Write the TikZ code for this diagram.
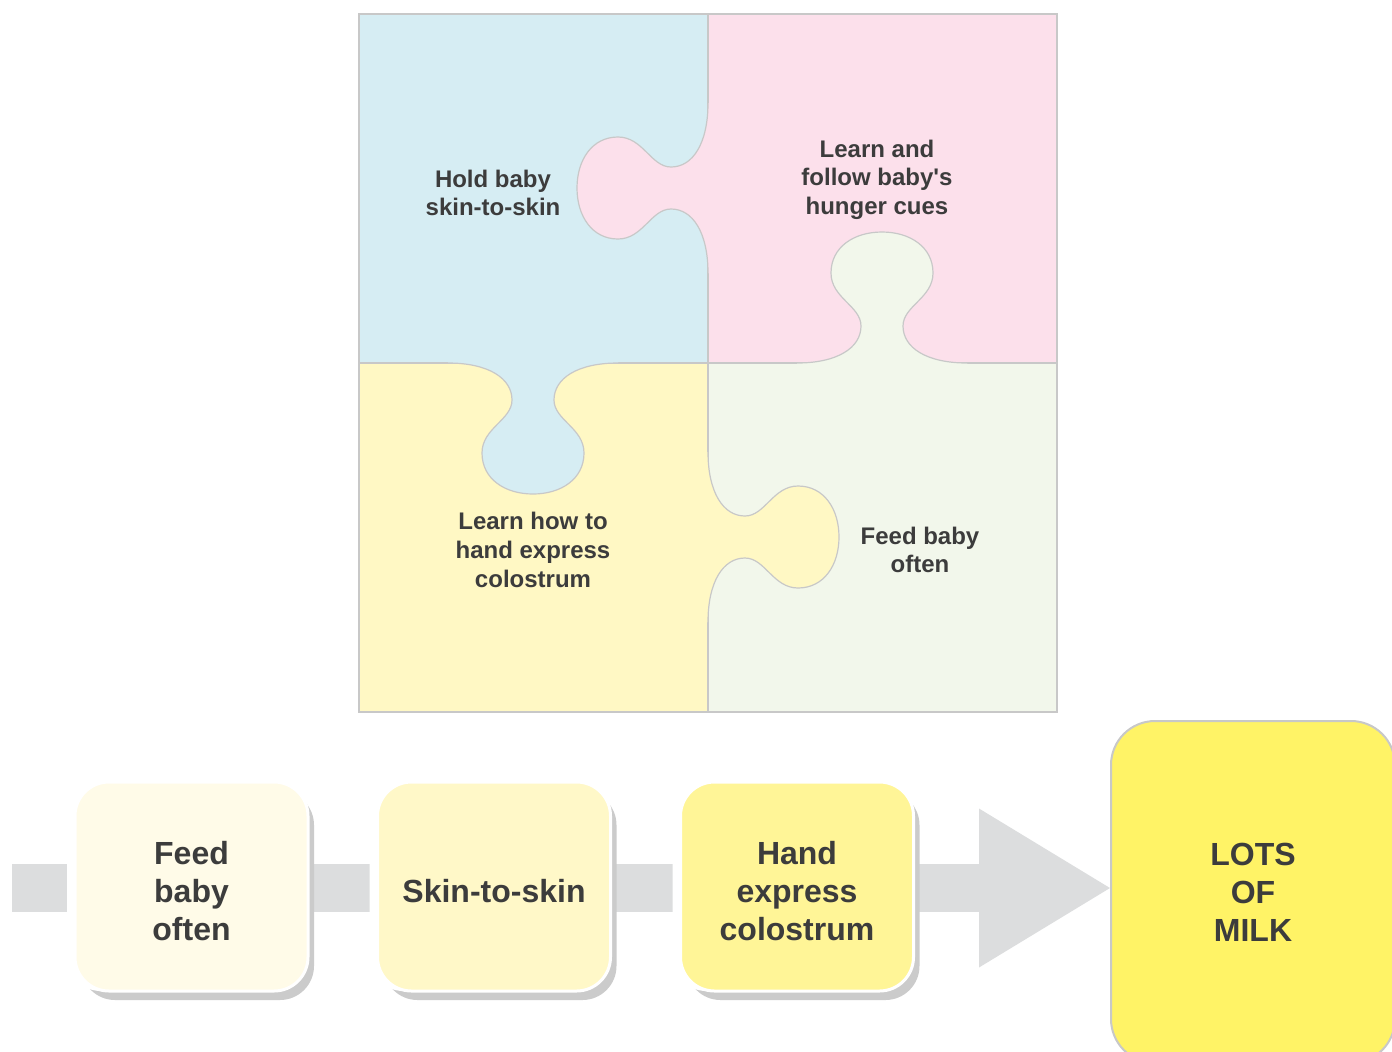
\documentclass[tikz,border=0pt]{standalone}
\usepackage{fontspec}
\setmainfont{Liberation Sans}
\usepackage{tikz}
\usetikzlibrary{arrows.meta,shadows}

\definecolor{bluepc}{HTML}{D6EDF3}
\definecolor{pinkpc}{HTML}{FCE0EB}
\definecolor{yellowpc}{HTML}{FFF8C4}
\definecolor{greenpc}{HTML}{F2F7EB}
\definecolor{seamgray}{HTML}{C8C8C8}
\definecolor{flowgray}{HTML}{DCDDDE}
\definecolor{shadowgray}{HTML}{CBCBCB}
\definecolor{textgray}{HTML}{3C3C3C}
\definecolor{feedfill}{HTML}{FFFBE8}
\definecolor{skinfill}{HTML}{FFF8C8}
\definecolor{handfill}{HTML}{FFF597}
\definecolor{milkfill}{HTML}{FFF366}
\newcommand{\stepstrut}{\rule{0pt}{16.2pt}}

\begin{document}
\begin{tikzpicture}[x=0.5pt,y=-0.5pt,
    seam/.style={draw=seamgray,line width=0.6pt},
    pics/knob/.style={code={
      \fill[#1] (-85,0) .. controls (-45,0) and (-21,15) .. (-21,37)
        .. controls (-21,57) and (-51,65) .. (-51,90)
        .. controls (-51,116) and (-28,131) .. (0,131)
        .. controls (28,131) and (51,116) .. (51,90)
        .. controls (51,65) and (21,57) .. (21,37)
        .. controls (21,15) and (45,0) .. (85,0)
        -- (85,-3) -- (-85,-3) -- cycle;
      \draw[seam] (-85,0) .. controls (-45,0) and (-21,15) .. (-21,37)
        .. controls (-21,57) and (-51,65) .. (-51,90)
        .. controls (-51,116) and (-28,131) .. (0,131)
        .. controls (28,131) and (51,116) .. (51,90)
        .. controls (51,65) and (21,57) .. (21,37)
        .. controls (21,15) and (45,0) .. (85,0);
    }},
    puzzletext/.style={align=center,text=textgray,
      font=\fontsize{12}{14.3}\selectfont\bfseries},
    stepbox/.style={draw=white,line width=1.5pt,rounded corners=17pt,
      minimum width=116.5pt,minimum height=104.5pt,inner sep=0pt,
      align=center,text=textgray,font=\fontsize{16}{19}\selectfont\bfseries,
      drop shadow={shadow xshift=3pt,shadow yshift=-4.5pt,fill=shadowgray,opacity=1},
      general shadow={shadow xshift=-4pt,fill=white}},
    milkbox/.style={draw=seamgray,fill=milkfill,line width=1pt,rounded corners=22pt,
      minimum width=142pt,minimum height=171pt,inner sep=0pt,
      align=center,text=textgray,font=\fontsize{16}{19}\selectfont\bfseries},
    flow/.style={draw=flowgray,line width=24pt,
      -{Triangle[length=65.5pt,width=79.5pt,line width=0pt]}}]
  \useasboundingbox (0,0) rectangle (1392,1051);

  \fill[bluepc] (359,14) rectangle (708,363);
  \fill[pinkpc] (708,14) rectangle (1057,363);
  \fill[yellowpc] (359,363) rectangle (708,712);
  \fill[greenpc] (708,363) rectangle (1057,712);
  \draw[seam] (708,14) -- (708,712) (359,363) -- (1057,363);
  \pic[rotate=-90] at (708,188) {knob=pinkpc};
  \pic[rotate=180] at (882,363) {knob=greenpc};
  \pic at (533,363) {knob=bluepc};
  \pic[rotate=90] at (708,537) {knob=yellowpc};
  \draw[seam] (359,14) rectangle (1057,712);

  \node[puzzletext] (hold) at (493,193) {Hold baby\\skin-to-skin};
  \node[puzzletext] (cues) at (877,179.5) {Learn and\\follow baby\textquotesingle s\\hunger cues};
  \node[puzzletext] (express) at (533,550) {Learn how to\\hand express\\colostrum};
  \node[puzzletext] (often) at (920,550) {Feed baby\\often};

  \node[milkbox] (milk) at (1253,892) {LOTS\\OF\\MILK};
  \coordinate (start) at (12,888);
  \draw[flow] (start) -- (start -| milk.west);
  \node[stepbox,fill=feedfill] (feed) at (191.5,886.5) {\stepstrut Feed\\baby\\often};
  \node[stepbox,fill=skinfill] (skin) at (494,886.5) {\stepstrut Skin-to-skin};
  \node[stepbox,fill=handfill] (hand) at (797,886.5) {\stepstrut Hand\\express\\colostrum};
\end{tikzpicture}
\end{document}
